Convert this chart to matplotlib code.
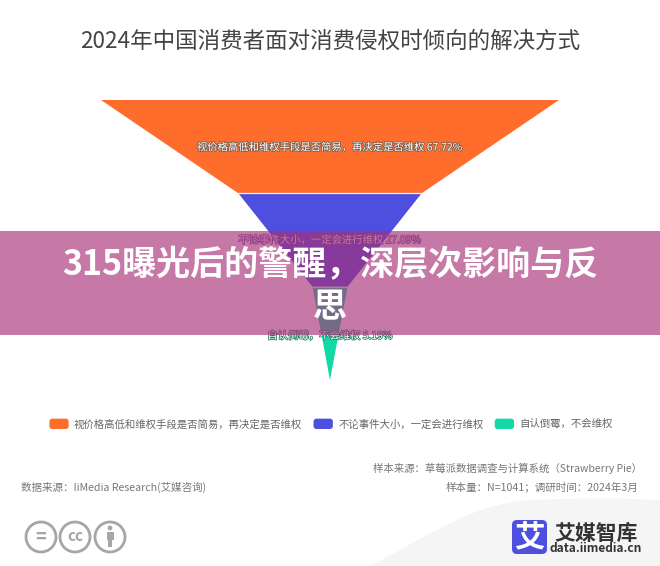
import matplotlib
matplotlib.use("Agg")
import matplotlib.pyplot as plt
import matplotlib.patheffects as pe
from matplotlib.patches import FancyBboxPatch, Circle, Rectangle, PathPatch, Patch
from matplotlib.path import Path
from matplotlib.legend_handler import HandlerPatch

plt.rcParams['font.family'] = ['Noto Sans CJK SC', 'DejaVu Sans']

title = "2024年中国消费者面对消费侵权时倾向的解决方式"
categories = ["视价格高低和维权手段是否简易，再决定是否维权",
              "不论事件大小，一定会进行维权",
              "自认倒霉，不会维权"]
values = [67.72, 27.09, 5.19]
colors = ["#FF6D2D", "#4E4FDF", "#12D9A5"]
label_strokes = ["#7a5a48", "#5a4a90", "#1f7f68"]
label_shift_pt = [0.5, 0, 1.8]
banner = "315曝光后的警醒，深层次影响与反\n思"
source_left = "数据来源：IiMedia Research(艾媒咨询)"
source_right1 = "样本来源：草莓派数据调查与计算系统（Strawberry Pie）"
source_right2 = "样本量：N=1041；调研时间：2024年3月"

W, H = 660, 566
fig = plt.figure(figsize=(W / 100, H / 100), dpi=100, facecolor="white")

# funnel axes, in value units
fx0, fx1, fy0, fy1 = 101, 559, 100, 380
fax = fig.add_axes([fx0 / W, 1 - fy1 / H, (fx1 - fx0) / W, (fy1 - fy0) / H], zorder=1)
half = values[0] / 2
fax.set_xlim(-half, half)
fax.set_ylim(len(values), 0)
fax.axis("off")
next_vals = values[1:] + [0]
for i, (v, nv, c, cat, st, sh) in enumerate(zip(values, next_vals, colors, categories,
                                                label_strokes, label_shift_pt)):
    fax.fill([-v / 2, v / 2, nv / 2, -nv / 2], [i, i, i + 1, i + 1],
             color=c, ec="none", clip_on=False)
    if nv > 0:
        fax.plot([-nv / 2, nv / 2], [i + 1, i + 1], color="#FFF0EA", lw=0.9,
                 solid_capstyle="butt", zorder=5, clip_on=False)
    fax.annotate(f"{cat} {v:.2f}%", xy=(0, i + 0.5), xytext=(0, -sh), textcoords="offset points",
                 ha="center", va="center", fontsize=7.45, color="white", zorder=6,
                 path_effects=[pe.withStroke(linewidth=1.1, foreground=st)])

# overlay in pixel units
ax = fig.add_axes([0, 0, 1, 1], zorder=2)
ax.set_xlim(0, W)
ax.set_ylim(H, 0)
ax.axis("off")
ax.patch.set_alpha(0)

# grey swoosh
sw = Path([(370, 566), (440, 530), (470, 505), (530, 500), (600, 497), (660, 500),
           (660, 566), (370, 566)],
          [Path.MOVETO, Path.CURVE4, Path.CURVE4, Path.CURVE4, Path.CURVE3, Path.CURVE3,
           Path.LINETO, Path.CLOSEPOLY])
ax.add_patch(PathPatch(sw, fc="#F5F5F5", ec="none", zorder=0))

ax.text(330, 41.5, title, ha="center", va="center", fontsize=16.2, color="#444444")

# banner
ax.add_patch(Rectangle((0, 231), W, 104, fc="#A83079", ec="none", alpha=0.65, zorder=3))
ax.text(330, 286, banner, ha="center", va="center", fontsize=24.5, fontweight="bold",
        color="white", linespacing=1.25, zorder=4)

# legend
class RoundHandler(HandlerPatch):
    def create_artists(self, legend, orig, xd, yd, w, h, fontsize, trans):
        p = FancyBboxPatch((-xd, -yd), w, h,
                           boxstyle="round,pad=0,rounding_size=2",
                           fc=orig.get_facecolor(), ec="none", transform=trans)
        return [p]

handles = [Patch(fc=c, label=cat) for c, cat in zip(colors, categories)]
leg = ax.legend(handles=handles, ncol=3, loc="center", bbox_to_anchor=(331 / W, 1 - 424 / H),
                bbox_transform=fig.transFigure, frameon=False, fontsize=7.5,
                labelcolor="#666666", handlelength=1.85, handleheight=1.15,
                handletextpad=0.5, columnspacing=1.1,
                handler_map={Patch: RoundHandler()})

# sources
ax.text(642, 468, source_right1, ha="right", va="center", fontsize=7.5, color="#777777")
ax.text(638, 487, source_right2, ha="right", va="center", fontsize=7.6, color="#777777")
ax.text(21, 487, source_left, ha="left", va="center", fontsize=7.6, color="#777777")

# CC icons
grey = "#A6A6A6"
for x in (41, 75, 110):
    ax.add_patch(Circle((x, 537), 15, fc="white", ec=grey, lw=2))
ax.text(41, 537, "=", ha="center", va="center", fontsize=13, color=grey, fontweight="bold")
ax.text(75, 536, "cc", ha="center", va="center", fontsize=11, color=grey, fontweight="bold")
ax.add_patch(Circle((110, 528), 2.4, fc=grey, ec="none"))
ax.add_patch(Rectangle((106.5, 531.5), 7, 8, fc=grey, ec="none"))
ax.add_patch(Rectangle((108, 539), 4, 8, fc=grey, ec="none"))

# logo
ax.add_patch(FancyBboxPatch((512, 520), 35, 34, boxstyle="round,pad=0,rounding_size=5",
                            fc="#4E4FDF", ec="none"))
ax.text(529.5, 537, "艾", ha="center", va="center", fontsize=22, color="white", fontweight="bold")
ax.text(596, 533, "艾媒智库", ha="center", va="center", fontsize=15, color="#333333", fontweight="bold")
ax.text(596, 549, "data.iimedia.cn", ha="center", va="center", fontsize=8.6, color="#333333",
        fontweight="bold")

fig.savefig("out.png", dpi=100)
